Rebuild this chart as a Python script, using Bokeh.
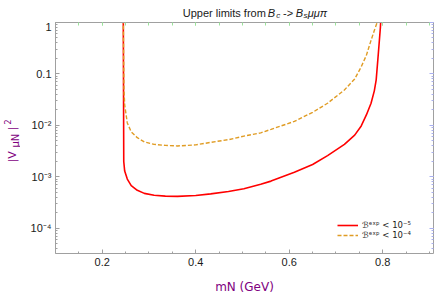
import math
from bokeh.plotting import figure
from bokeh.layouts import column, row
from bokeh.models import (Range1d, SingleIntervalTicker, LogTicker, LinearAxis, LogAxis,
                          CustomJSTickFormatter, Legend, LegendItem, Label)
from bokeh.embed import file_html
from bokeh.resources import INLINE

# ---- data ----
mass_red = [0.2450, 0.2460, 0.2480, 0.2536, 0.262, 0.275, 0.290, 0.311, 0.335, 0.361,
            0.400, 0.432, 0.470, 0.503, 0.539, 0.561, 0.611, 0.650, 0.682, 0.718,
            0.740, 0.754, 0.765, 0.775, 0.782, 0.786, 0.7906, 0.795, 0.7965]
v2_red = [1.5, 2.0e-3, 1.3e-3, 9.1e-4, 6.8e-4, 5.5e-4, 4.8e-4, 4.4e-4, 4.25e-4, 4.2e-4,
          4.35e-4, 4.7e-4, 5.2e-4, 5.9e-4, 7.2e-4, 8.3e-4, 1.23e-3, 1.75e-3, 2.6e-3, 4.3e-3,
          6.5e-3, 9.8e-3, 0.016, 0.027, 0.047, 0.077, 0.25, 0.8, 1.5]

mass_orange = [0.2450, 0.2465, 0.2480, 0.2536, 0.262, 0.275, 0.290, 0.311, 0.335, 0.361,
               0.400, 0.432, 0.470, 0.503, 0.539, 0.561, 0.611, 0.650, 0.682, 0.718,
               0.740, 0.754, 0.765, 0.775, 0.782, 0.788, 0.790]
v2_orange = [1.5, 0.05, 0.025, 0.0112, 7.5e-3, 5.8e-3, 4.8e-3, 4.3e-3, 4.1e-3, 4.0e-3,
             4.2e-3, 4.7e-3, 5.3e-3, 6.2e-3, 7.2e-3, 8.4e-3, 0.012, 0.018, 0.027, 0.049,
             0.08, 0.138, 0.23, 0.45, 0.7, 1.0, 1.5]

legend_labels = ["ℬᵉˣᵖ < 10⁻⁵", "ℬᵉˣᵖ < 10⁻⁴"]
x_title = "mN (GeV)"
x_limits = (0.1, 0.9086)
y_limits = (3.26e-5, 1.0)

RED = "#ff0000"
ORANGE = "#e09c24"
PURPLE = "#800080"
FRAME = "#a0a0a0"
FONT = "Liberation Sans"

W, H = 436, 296
TITLE_H = 20
YLAB_W = 20


def bare_fig(w, h, xr, yr):
    f = figure(width=w, height=h, output_backend="svg", toolbar_location=None,
               x_range=Range1d(*xr), y_range=Range1d(*yr),
               min_border=0, x_axis_location=None, y_axis_location=None)
    f.grid.visible = False
    f.outline_line_color = None
    return f


def lab(f, x, y, text, size, style="normal", color="#1a1a1a", angle=0.0, font=FONT,
        align="left", baseline="alphabetic"):
    f.add_layout(Label(x=x, y=y, text=text, text_font=font, text_font_size=size,
                       text_font_style=style, text_color=color, angle=angle,
                       text_align=align, text_baseline=baseline))


# ---- y-label strip, full height (data units = page pixels) ----
yf = bare_fig(YLAB_W, H, (0, YLAB_W), (H, 0))
ya = math.pi / 2
lab(yf, 12, 162, "|V", "11px", color=PURPLE, angle=ya, font="DejaVu Sans")
lab(yf, 15, 147, "μN", "10px", color=PURPLE, angle=ya, font="DejaVu Sans")
lab(yf, 12, 130, "|", "11px", color=PURPLE, angle=ya, font="DejaVu Sans")
lab(yf, 6.5, 124, "2", "8px", color=PURPLE, angle=ya, font="DejaVu Sans")

# ---- title strip (data units = page pixels) ----
tf = bare_fig(W - YLAB_W, TITLE_H, (YLAB_W, W), (TITLE_H, 0))
tb = 12
lab(tf, 251.5, tb, "Upper limits from", "11px", align="right")
lab(tf, 253.5, tb, "B", "11px", "italic")
lab(tf, 263, tb + 2.5, "c", "8px", "italic")
lab(tf, 270.5, tb, "->", "11px")
lab(tf, 284.5, tb, "B", "11px", "italic")
lab(tf, 293, tb + 2.5, "s", "8px", "italic")
lab(tf, 297.5, tb, "μμπ", "11px", "italic")

# ---- main plot ----
p = figure(width=W - YLAB_W, height=H - TITLE_H, output_backend="svg", toolbar_location=None,
           x_range=Range1d(*x_limits), y_range=Range1d(*y_limits), y_axis_type="log",
           min_border_left=55 - YLAB_W, min_border_right=3, min_border_top=2,
           min_border_bottom=41, x_axis_location=None, y_axis_location=None)
p.grid.visible = False
p.outline_line_color = None

blank = CustomJSTickFormatter(code="return '';")


def style_axis(ax, tick_color, labels=True):
    ax.axis_line_color = FRAME
    ax.major_tick_line_color = tick_color
    ax.minor_tick_line_color = tick_color
    ax.major_tick_in = 4
    ax.major_tick_out = 0
    ax.minor_tick_in = 2
    ax.minor_tick_out = 0
    ax.major_label_text_font = FONT
    ax.major_label_text_font_size = "11px"
    ax.major_label_text_color = "#1a1a1a"
    if not labels:
        ax.formatter = blank
        ax.major_label_standoff = 0


bottom = LinearAxis(ticker=SingleIntervalTicker(interval=0.2, num_minor_ticks=4))
style_axis(bottom, FRAME)
bottom.major_label_standoff = 4
bottom.axis_label = x_title
bottom.axis_label_text_font = "DejaVu Sans"
bottom.axis_label_text_font_style = "normal"
bottom.axis_label_text_font_size = "12px"
bottom.axis_label_text_color = PURPLE
bottom.axis_label_standoff = 11
p.add_layout(bottom, "below")

left = LogAxis(ticker=LogTicker(num_minor_ticks=10))
style_axis(left, FRAME)
left.major_label_standoff = 4
left.formatter = CustomJSTickFormatter(code="""
const e = Math.round(Math.log10(tick));
if (e === 0) return "1";
if (e === -1) return "0.1";
const sup = {"-":"\u207b","0":"\u2070","1":"\u00b9","2":"\u00b2","3":"\u00b3","4":"\u2074",
             "5":"\u2075","6":"\u2076","7":"\u2077","8":"\u2078","9":"\u2079"};
return "10" + String(e).split("").map(c => sup[c]).join("");
""")
p.add_layout(left, "left")

top = LinearAxis(ticker=SingleIntervalTicker(interval=0.2, num_minor_ticks=4))
style_axis(top, "#9be39b", labels=False)
top.minor_tick_in = 3
top.major_tick_in = 3
p.add_layout(top, "above")

right = LogAxis(ticker=LogTicker(num_minor_ticks=10))
style_axis(right, "#aab0f0", labels=False)
p.add_layout(right, "right")

r1 = p.line(mass_red, v2_red, line_color=RED, line_width=1.6)
r2 = p.line(mass_orange, v2_orange, line_color=ORANGE, line_width=1.4, line_dash="4 2")


def one_legend(label, rend, y):
    lg = Legend(items=[LegendItem(label=label, renderers=[rend])], location=(282, y))
    lg.background_fill_alpha = 0
    lg.border_line_color = None
    lg.padding = 0
    lg.margin = 0
    lg.spacing = 0
    lg.glyph_width = 21
    lg.glyph_height = 10
    lg.label_height = 10
    lg.label_standoff = 4
    lg.label_text_font = "DejaVu Sans"
    lg.label_text_font_size = "8.5px"
    lg.label_text_color = "#1a1a1a"
    p.add_layout(lg, "center")


one_legend(legend_labels[0], r1, 23)
one_legend(legend_labels[1], r2, 13)

layout = row(yf, column(tf, p))
open("out.html", "w").write(file_html(layout, INLINE))
